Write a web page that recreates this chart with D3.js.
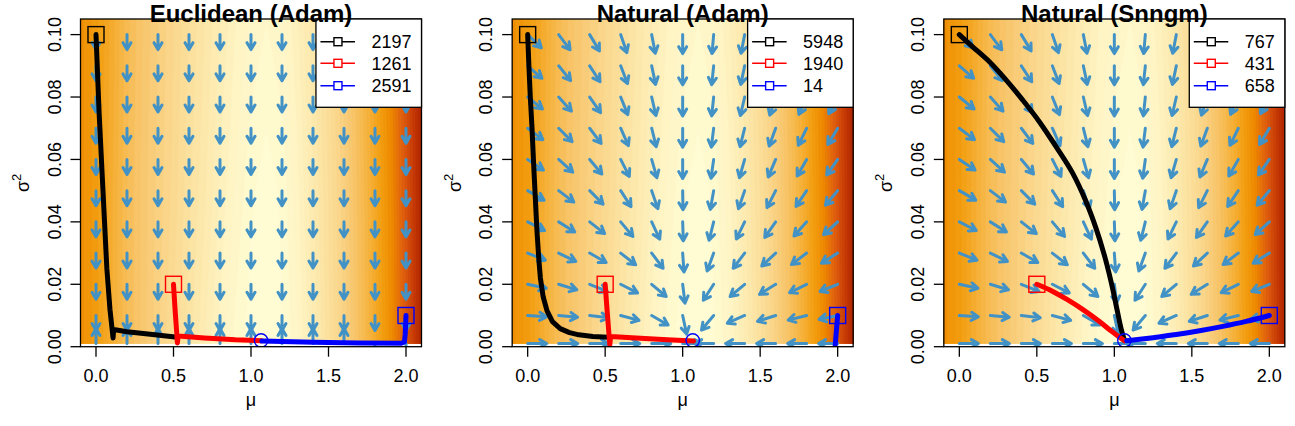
<!DOCTYPE html>
<html><head><meta charset="utf-8">
<script src="https://cdn.jsdelivr.net/npm/d3@7"></script>
<style>
body{margin:0;background:#fff}
svg{display:block}
text{font-family:"Liberation Sans",Arial,Helvetica,sans-serif;fill:#000}
</style>
</head><body>
<svg id="c" width="1295" height="426"></svg>
<script>
// ---------------- data ----------------
const panelTitles = ["Euclidean (Adam)", "Natural (Adam)", "Natural (Snngm)"];
const xTicks = [0, 0.5, 1.0, 1.5, 2.0];
const xTickLabels = ["0.0", "0.5", "1.0", "1.5", "2.0"];
const yTicks = [0, 0.02, 0.04, 0.06, 0.08, 0.10];
const yTickLabels = ["0.00", "0.02", "0.04", "0.06", "0.08", "0.10"];

const seriesColors = ["#000000", "#ff0000", "#0000ff"];
const legendCounts = [[2197, 1261, 2591], [5948, 1940, 14], [767, 431, 658]];

// arrow grid
const arrowMu = [0, 0.2, 0.4, 0.6, 0.8, 1.0, 1.2, 1.4, 1.6, 1.8, 2.0];
const arrowSigma = [0.001, 0.01, 0.02, 0.03, 0.04, 0.05, 0.06, 0.07, 0.08, 0.09, 0.10];
// arrow directions in degrees: 0 = towards smaller sigma^2, +90 = towards larger mu, 180 = towards larger sigma^2
const euclidAngles = [
  [180, 180, 180, 180, 180, 180, 180, 180, 180, 0, 0],
  [0, 0, 0, 0, 0, 0, 0, 0, 0, 0, 0],
  [0, 0, 0, 0, 0, 0, 0, 0, 0, 0, 0],
  [0, 0, 0, 0, 0, 0, 0, 0, 0, 0, 0],
  [0, 0, 0, 0, 0, 0, 0, 0, 0, 0, 0],
  [0, 0, 0, 0, 0, 0, 0, 0, 0, 0, 0],
  [0, 0, 0, 0, 0, 0, 0, 0, 0, 0, 0],
  [0, 0, 0, 0, 0, 0, 0, 0, 0, 0, 0],
  [0, 0, 0, 0, 0, 0, 0, 0, 0, 0, 0],
  [0, 0, 0, 0, 0, 0, 0, 0, 0, 0, 0],
  [0, 0, 0, 0, 0, 0, 0, 0, 0, 0, 0]
];
const naturalAngles = [
  [90, 90, 90, 90, 90, 90, -90, -90, -90, -90, -90],
  [86, 85, 83, 75, 60, 12, -40, -66, -72, -76, -78],
  [78, 73, 68, 63, 50, 7, -33, -50, -58, -64, -68],
  [68, 64, 60, 52, 37, 4, -20, -37, -47, -53, -58],
  [63, 58, 52, 40, 25, 2, -14, -26, -35, -42, -48],
  [60, 53, 45, 33, 19, 1, -10, -19, -27, -34, -40],
  [56, 48, 40, 27, 16, 0, -8, -16, -23, -30, -35],
  [53, 45, 37, 24, 14, 0, -7, -14, -20, -26, -31],
  [51, 42, 35, 22, 13, 0, -6, -13, -18, -24, -28],
  [49, 39, 33, 21, 12, 0, -6, -12, -17, -22, -26],
  [46, 37, 31, 19, 11, 0, -5, -11, -16, -21, -24]
];

// background loss surface (relative level 0..1)
const bgMu = [-0.1, 0, 0.1, 0.2, 0.3, 0.4, 0.5, 0.6, 0.7, 0.8, 0.9, 1.0, 1.1, 1.2, 1.3, 1.4, 1.5, 1.6, 1.7, 1.8, 1.9, 2.0, 2.1];
const bgSigma = [0.001, 0.05, 0.105];
const bgLevelBottom = [0.66, 0.61, 0.53, 0.45, 0.39, 0.33, 0.27, 0.21, 0.15, 0.09, 0.04, 0.01, 0.0, 0.02, 0.07, 0.15, 0.24, 0.33, 0.43, 0.54, 0.66, 0.8, 0.95];
const bgLevelMid    = [0.66, 0.61, 0.53, 0.45, 0.39, 0.34, 0.29, 0.23, 0.18, 0.12, 0.07, 0.03, 0.01, 0.03, 0.09, 0.17, 0.25, 0.34, 0.44, 0.55, 0.67, 0.81, 0.95];
const bgLevelTop    = [0.66, 0.61, 0.54, 0.46, 0.40, 0.35, 0.30, 0.25, 0.20, 0.15, 0.10, 0.07, 0.05, 0.07, 0.12, 0.19, 0.27, 0.36, 0.46, 0.57, 0.69, 0.82, 0.96];
const levelStops  = [0, 0.1, 0.2, 0.3, 0.4, 0.5, 0.6, 0.68, 0.78, 0.88, 1.0];
const levelColors = ["#FFFCD5", "#FEF3C1", "#FCE6A8", "#FAD78E", "#F8C66C", "#F6B440", "#F39E10", "#EE8A00", "#E06010", "#C63A06", "#A01800"];

// trajectories (mu, sigma^2)
const eucBlack = [[0,0.1],[0.02,0.075],[0.045,0.05],[0.07,0.025],[0.09,0.012],[0.103,0.006],[0.11,0.0028],[0.114,0.0055],[0.2,0.0048],[0.35,0.004],[0.51,0.0031]];
const eucRed   = [[0.5,0.02],[0.51,0.012],[0.52,0.005],[0.525,0.0012],[0.53,0.0034],[0.7,0.0028],[0.9,0.0022],[1.07,0.0019]];
const eucBlue  = [[2.0,0.01],[1.995,0.004],[1.99,0.0015],[1.97,0.0011],[1.7,0.0012],[1.4,0.0014],[1.07,0.0018]];
const natBlack = [[0,0.1],[0.008,0.09],[0.017,0.08],[0.028,0.07],[0.039,0.058],[0.05,0.047],[0.06,0.037],[0.072,0.028],[0.082,0.022],[0.1,0.016],[0.125,0.0115],[0.16,0.008],[0.21,0.0058],[0.27,0.0045],[0.33,0.0038],[0.42,0.0033],[0.52,0.003]];
const natRed   = [[0.5,0.02],[0.515,0.01],[0.53,0.0006],[0.535,0.0033],[0.7,0.0028],[0.9,0.0022],[1.07,0.0018]];
const natBlue  = [[2.0,0.01],[1.99,0.004],[1.98,-0.002]];
const snBlack  = [[0,0.1],[0.086,0.0961],[0.194,0.0913],[0.301,0.0855],[0.409,0.079],[0.516,0.0721],[0.624,0.0641],[0.731,0.0556],[0.817,0.0465],[0.882,0.0379],[0.935,0.0294],[0.979,0.0208],[1.011,0.0134],[1.043,0.0059],[1.065,0.0021]];
const snRed    = [[0.5,0.02],[0.6,0.0178],[0.7,0.015],[0.8,0.0118],[0.9,0.0082],[0.98,0.005],[1.03,0.0032],[1.065,0.0019]];
const snBlue   = [[2.0,0.01],[1.85,0.0081],[1.7,0.0065],[1.55,0.0051],[1.4,0.0039],[1.25,0.0029],[1.15,0.0023],[1.08,0.0019]];
const optimum = [1.065, 0.002];

const panelTraj = [[eucBlack, eucRed, eucBlue], [natBlack, natRed, natBlue], [snBlack, snRed, snBlue]];
const panelAngles = [euclidAngles, naturalAngles, naturalAngles];
const panelSmooth = [false, false, true];

// ---------------- layout ----------------
const W = 1295, H = 426;
const panelW = W / 3;
const plotLeft = 80.5, plotW = 341, plotTop = 19, plotBottom = 346.7;
const arrowLen = [15, 19, 19];
const arrowColor = "#4292C6";

const svg = d3.select("#c");
const defs = svg.append("defs");

const colorScale = d3.scaleLinear().domain(levelStops).range(levelColors).interpolate(d3.interpolateRgb);

// background grid values
const gMu0 = -0.12, gMuStep = 0.01, nx = 225;
const gS0 = 0.001, gSStep = 0.001, ny = 106;
const rowScales = [bgLevelBottom, bgLevelMid, bgLevelTop].map(r => d3.scaleLinear().domain(bgMu).range(r).clamp(true));
const sScale = d3.scaleLinear().domain(bgSigma).range([0, 1, 2]).clamp(true);
const gridVals = new Array(nx * ny);
for (let j = 0; j < ny; j++) {
  const s = gS0 + j * gSStep;
  const t = sScale(s);
  const k = Math.min(1, Math.floor(t));
  const f = t - k;
  for (let i = 0; i < nx; i++) {
    const m = gMu0 + i * gMuStep;
    const a = rowScales[k](m), b = rowScales[k + 1](m);
    gridVals[j * nx + i] = a + (b - a) * f;
  }
}
const thrStep = 0.025;
const thresholds = d3.range(-0.05, 1.05, thrStep);
const contours = d3.contours().size([nx, ny]).thresholds(thresholds)(gridVals);

function drawPanel(p) {
  const ox = p * panelW;
  const x = d3.scaleLinear().domain([-0.1, 2.1]).range([ox + plotLeft, ox + plotLeft + plotW]);
  const y = d3.scaleLinear().domain([0, 0.105]).range([plotBottom, plotTop]);

  const clipId = "clip" + p;
  defs.append("clipPath").attr("id", clipId).append("rect")
    .attr("x", x(-0.1)).attr("y", y(0.105)).attr("width", x(2.1) - x(-0.1)).attr("height", y(0) - y(0.105));
  const bgClipId = "bgclip" + p;
  defs.append("clipPath").attr("id", bgClipId).append("rect")
    .attr("x", x(-0.1)).attr("y", y(0.105)).attr("width", x(2.1) - x(-0.1)).attr("height", y(0.001) - y(0.105));

  // background
  svg.append("rect").attr("x", x(-0.1)).attr("y", y(0.105)).attr("width", x(2.1) - x(-0.1)).attr("height", y(0) - y(0.105)).attr("fill", "#fff");
  const proj = d3.geoTransform({
    point: function(px, py) {
      this.stream.point(x(gMu0 + (px - 0.5) * gMuStep), y(gS0 + (py - 0.5) * gSStep));
    }
  });
  const path = d3.geoPath(proj);
  const bg = svg.append("g").attr("clip-path", `url(#${bgClipId})`);
  bg.selectAll("path").data(contours).join("path")
    .attr("d", path)
    .attr("fill", d => colorScale(Math.max(0, d.value + thrStep / 2)))
    .attr("stroke", d => colorScale(Math.max(0, d.value + thrStep / 2)))
    .attr("stroke-width", 0.3);

  const g = svg.append("g").attr("clip-path", `url(#${clipId})`);

  // arrows
  const angles = panelAngles[p];
  const L = arrowLen[p], HL = 8, HA = 30 * Math.PI / 180;
  const arrows = [];
  arrowSigma.forEach((s, j) => arrowMu.forEach((m, i) => arrows.push({m, s, a: angles[j][i]})));
  const ag = g.append("g").attr("stroke", arrowColor).attr("stroke-width", 3).attr("stroke-linecap", "round").attr("stroke-linejoin", "round").attr("fill", "none");
  ag.selectAll("path").data(arrows).join("path").attr("d", d => {
    const th = d.a * Math.PI / 180;
    const dx = Math.sin(th), dy = Math.cos(th);
    const x0 = x(d.m), y0 = y(d.s);
    const x1 = x0 + L * dx, y1 = y0 + L * dy;
    const ang = Math.atan2(dy, dx);
    const hx1 = x1 - HL * Math.cos(ang - HA), hy1 = y1 - HL * Math.sin(ang - HA);
    const hx2 = x1 - HL * Math.cos(ang + HA), hy2 = y1 - HL * Math.sin(ang + HA);
    return `M${x0},${y0}L${x1},${y1}M${hx1},${hy1}L${x1},${y1}L${hx2},${hy2}`;
  });

  // trajectories
  const line = d3.line().x(d => x(d[0])).y(d => y(d[1]))
    .curve(panelSmooth[p] ? d3.curveCatmullRom.alpha(0.5) : d3.curveLinear);
  const trajs = panelTraj[p];
  trajs.forEach((t, k) => {
    g.append("path").attr("d", line(t)).attr("fill", "none").attr("stroke", seriesColors[k])
      .attr("stroke-width", 5).attr("stroke-linejoin", "round").attr("stroke-linecap", "round");
  });
  // start squares
  trajs.forEach((t, k) => {
    svg.append("rect").attr("x", x(t[0][0]) - 8).attr("y", y(t[0][1]) - 8).attr("width", 16).attr("height", 16)
      .attr("fill", "none").attr("stroke", seriesColors[k]).attr("stroke-width", 1.4);
  });
  // optimum circle
  g.append("circle").attr("cx", x(optimum[0])).attr("cy", y(optimum[1])).attr("r", 6.7)
    .attr("fill", "none").attr("stroke", "#0000ff").attr("stroke-width", 1.4);

  // box
  svg.append("rect").attr("x", x(-0.1)).attr("y", y(0.105)).attr("width", x(2.1) - x(-0.1)).attr("height", y(0) - y(0.105))
    .attr("fill", "none").attr("stroke", "#000").attr("stroke-width", 1.3);

  // axes
  const xa = svg.append("g");
  xTicks.forEach((t, i) => {
    xa.append("line").attr("x1", x(t)).attr("x2", x(t)).attr("y1", plotBottom).attr("y2", plotBottom + 10).attr("stroke", "#000").attr("stroke-width", 1.3);
    xa.append("text").attr("x", x(t)).attr("y", 382).attr("text-anchor", "middle").attr("font-size", 18).text(xTickLabels[i]);
  });
  yTicks.forEach((t, i) => {
    xa.append("line").attr("x1", ox + plotLeft - 10).attr("x2", ox + plotLeft).attr("y1", y(t)).attr("y2", y(t)).attr("stroke", "#000").attr("stroke-width", 1.3);
    xa.append("text").attr("transform", `translate(${ox + plotLeft - 20},${y(t)}) rotate(-90)`)
      .attr("text-anchor", "middle").attr("font-size", 18).text(yTickLabels[i]);
  });
  // axis labels
  const cx = (x(-0.1) + x(2.1)) / 2;
  svg.append("text").attr("x", cx).attr("y", 406).attr("text-anchor", "middle").attr("font-size", 18).text("μ");
  const yl = svg.append("text").attr("transform", `translate(${ox + 29},${(plotTop + plotBottom) / 2}) rotate(-90)`)
    .attr("text-anchor", "middle").attr("font-size", 18);
  yl.append("tspan").text("σ");
  yl.append("tspan").attr("font-size", 13).attr("dy", -8).text("2");

  // legend
  const lg = svg.append("g");
  const lbox = lg.append("rect").attr("fill", "#fff").attr("stroke", "#000").attr("stroke-width", 1.3);
  const rowY = [41.7, 63.3, 85.7];
  let maxW = 0;
  const texts = legendCounts[p].map((c, k) => {
    const tx = lg.append("text").attr("y", rowY[k] + 6.5).attr("font-size", 18).text(String(c));
    maxW = Math.max(maxW, tx.node().getComputedTextLength());
    return tx;
  });
  const boxW = 55.5 + maxW + 10;
  const bx = x(2.1) - boxW;
  lbox.attr("x", bx).attr("y", plotTop).attr("width", boxW).attr("height", 88.3);
  texts.forEach(tx => tx.attr("x", bx + 55.5));
  legendCounts[p].forEach((c, k) => {
    lg.append("line").attr("x1", bx + 4.5).attr("x2", bx + 39).attr("y1", rowY[k]).attr("y2", rowY[k])
      .attr("stroke", seriesColors[k]).attr("stroke-width", 1.4);
    lg.append("rect").attr("x", bx + 22 - 4).attr("y", rowY[k] - 4).attr("width", 8).attr("height", 8)
      .attr("fill", "#fff").attr("stroke", seriesColors[k]).attr("stroke-width", 1.4);
  });

  // title (kept fully inside the picture)
  svg.append("text").attr("x", cx).attr("y", 22).attr("text-anchor", "middle").attr("font-size", 24).attr("font-weight", "bold").text(panelTitles[p]);
}

[0, 1, 2].forEach(drawPanel);
</script>
</body></html>
